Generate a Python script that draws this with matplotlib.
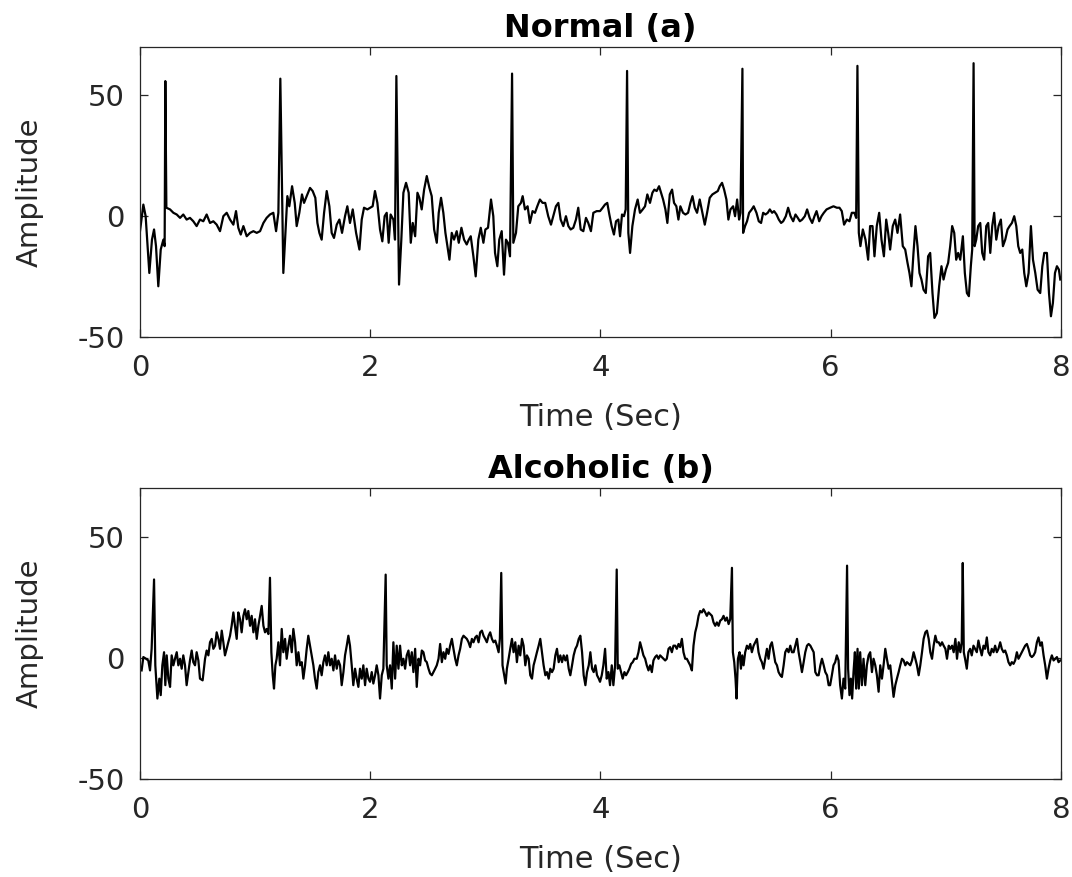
import numpy as np
import matplotlib.pyplot as plt

# (time in sec, amplitude)
normal_pts = [
    (0.000, -6.2), (0.029, 4.8), (0.049, 0), (0.081, -23.5), (0.104, -9.7), (0.122, -5.5), (0.139, -12.4),
    (0.159, -29.0), (0.180, -13.8), (0.203, -9.7), (0.214, -12.4), (0.220, 55.9), (0.229, 3.5), (0.261, 2.8),
    (0.290, 1.4), (0.319, 0.7), (0.348, -0.7), (0.376, 0.7), (0.405, -1.4), (0.434, -0.7), (0.463, -2.1),
    (0.492, -4.1), (0.521, -1.4), (0.550, -2.1), (0.579, 0.7), (0.608, -2.8), (0.637, -2.1), (0.666, -3.5),
    (0.695, -6.2), (0.724, 0), (0.753, 1.4), (0.782, -1.4), (0.811, -3.5), (0.834, 2.1), (0.854, -4.8),
    (0.875, -7.6), (0.898, -4.1), (0.927, -8.3), (0.956, -6.9), (0.985, -6.2), (1.014, -6.9), (1.043, -6.2),
    (1.072, -2.8), (1.100, -0.7), (1.129, 0.7), (1.158, 1.4), (1.182, -6.2), (1.202, 1.4), (1.219, 56.9),
    (1.245, -23.5), (1.280, 8.3), (1.297, 4.1), (1.321, 12.4), (1.344, 5.5), (1.361, -4.1), (1.384, 1.4),
    (1.407, 9.0), (1.425, 5.5), (1.448, 8.3), (1.477, 11.7), (1.500, 10.4), (1.523, 7.6), (1.541, -2.8),
    (1.558, -6.9), (1.578, -9.7), (1.599, 1.4), (1.622, 10.4), (1.645, 4.1), (1.665, -6.9), (1.685, -9.0),
    (1.709, -3.5), (1.732, -1.4), (1.755, -6.9), (1.781, 0), (1.801, 4.1), (1.824, -2.8), (1.848, 2.8),
    (1.877, -6.9), (1.906, -13.8), (1.926, -1.4), (1.946, 3.5), (1.975, 2.8),
    (2.021, 4.1), (2.041, 10.4), (2.062, 5.5), (2.085, -5.5), (2.105, -10.4), (2.125, 0), (2.143, 1.4),
    (2.160, -11.0), (2.177, 0.7), (2.201, -1.4), (2.215, -9.7), (2.227, 58.0), (2.250, -28.3), (2.270, -9.7),
    (2.288, 9.7), (2.311, 13.8), (2.334, 9.7), (2.352, -11.0), (2.369, -2.8), (2.390, -8.3), (2.410, 9.7),
    (2.427, 7.6), (2.447, 2.8), (2.468, 11.0), (2.491, 16.6), (2.514, 11.7), (2.534, 8.3), (2.555, -5.5),
    (2.578, -11.0), (2.595, 1.4), (2.615, 7.6), (2.635, 1.4), (2.653, -6.9), (2.670, -12.4), (2.688, -18.0),
    (2.708, -6.9), (2.728, -9.7), (2.751, -6.2), (2.769, -11.0), (2.792, -4.8), (2.815, -9.7), (2.838, -11.7),
    (2.856, -9.7), (2.873, -8.3), (2.896, -16.6), (2.916, -24.9), (2.939, -9.7), (2.960, -4.8), (2.983, -11.0),
    (3.000, -5.5), (3.023, -4.8), (3.049, 6.9), (3.069, 0), (3.084, -15.2), (3.104, -20.7), (3.121, -9.7),
    (3.142, -6.2), (3.162, -24.2), (3.179, -9.7), (3.196, -11.0), (3.214, -16.6), (3.232, 59.0), (3.243, -11.0),
    (3.266, -6.9), (3.286, 4.1), (3.309, 5.5), (3.324, 8.3), (3.344, 2.8), (3.367, 4.1), (3.387, -2.8),
    (3.410, 2.1), (3.431, 1.4), (3.451, 4.1), (3.474, 6.9), (3.497, 5.5), (3.520, 5.5), (3.546, 0),
    (3.570, -3.5), (3.590, 0), (3.613, 4.1), (3.634, 5.5), (3.654, -1.4), (3.677, -4.1), (3.700, 0),
    (3.721, -4.1), (3.741, -5.5), (3.764, -4.8), (3.787, -1.4), (3.807, 3.5), (3.828, -5.5), (3.851, -6.2),
    (3.874, -0.7), (3.894, -2.8), (3.917, -6.2), (3.938, 1.4), (3.967, 2.1),
    (3.996, 2.1), (4.019, 3.5), (4.039, 4.8), (4.059, 5.5), (4.077, 0.7), (4.097, -4.1), (4.117, -7.6),
    (4.135, -2.1), (4.155, -1.4), (4.170, -8.3), (4.187, 0.7), (4.204, 0), (4.219, 2.8), (4.231, 60.1),
    (4.242, -6.9), (4.257, -15.2), (4.277, -4.1), (4.300, 2.8), (4.323, 6.9), (4.343, 1.4), (4.367, 2.8),
    (4.387, 4.1), (4.407, 9.0), (4.430, 5.5), (4.451, 9.7), (4.468, 11.0), (4.488, 10.4), (4.509, 12.4),
    (4.526, 9.7), (4.544, 6.9), (4.564, 2.8), (4.581, -2.8), (4.602, 9.0), (4.622, 11.0), (4.639, 5.5),
    (4.659, 4.1), (4.677, -1.4), (4.694, 4.1), (4.717, 1.4), (4.738, 0.7), (4.761, 1.4), (4.781, 5.5),
    (4.799, 8.3), (4.819, 3.5), (4.839, 1.4), (4.862, 6.9), (4.885, 1.4), (4.906, -3.5), (4.926, 1.4),
    (4.949, 7.6), (4.972, 9.0), (4.995, 9.7), (5.019, 10.4), (5.036, 12.4), (5.056, 13.8), (5.074, 11.0),
    (5.094, 6.9), (5.111, -1.4), (5.129, 2.8), (5.152, 4.1), (5.169, 0), (5.187, 6.9), (5.204, -1.4),
    (5.216, 1.4), (5.233, 61.0), (5.239, -6.9), (5.256, -4.1), (5.273, -2.1), (5.291, 1.4), (5.314, 2.8),
    (5.331, 4.1), (5.355, 1.4), (5.375, -2.1), (5.395, -2.8), (5.413, 1.4), (5.433, 0.7), (5.453, 1.4),
    (5.471, 2.8), (5.491, 1.4), (5.508, 2.1), (5.529, 0.7), (5.549, -1.4), (5.569, -2.8), (5.587, -2.1),
    (5.610, 0), (5.630, 3.5), (5.651, 0), (5.674, -2.1), (5.694, 0.7), (5.714, -0.7), (5.732, -2.1),
    (5.752, -1.4), (5.775, 0), (5.795, 2.8), (5.817, -0.7), (5.839, -2.8), (5.859, 0), (5.877, 2.1),
    (5.900, -2.1), (5.920, 0), (5.940, 1.4), (5.964, 2.8),
    (5.995, 3.5), (6.024, 4.1), (6.053, 3.5), (6.076, 3.5), (6.096, 2.1), (6.116, -3.5), (6.140, -1.4),
    (6.163, -2.1), (6.183, 1.4), (6.206, 1.4), (6.221, -0.7), (6.232, 62.2), (6.244, -6.9), (6.258, -12.4),
    (6.279, -5.5), (6.302, -9.7), (6.325, -18.0), (6.342, -4.1), (6.363, -4.1), (6.380, -16.6), (6.400, -4.1),
    (6.421, 1.4), (6.441, -9.7), (6.462, -16.6), (6.482, -1.4), (6.499, -6.9), (6.516, -13.8), (6.539, -4.1),
    (6.560, -1.4), (6.580, -6.9), (6.603, 0.7), (6.626, -12.4), (6.647, -13.8), (6.667, -19.3), (6.684, -23.5),
    (6.701, -29.0), (6.719, -15.2), (6.736, -4.1), (6.754, -12.4), (6.771, -23.5), (6.788, -26.2),
    (6.806, -30.4), (6.826, -31.8), (6.846, -16.6), (6.864, -15.2), (6.884, -31.8), (6.901, -42.1),
    (6.922, -40.1), (6.942, -29.0), (6.962, -20.7), (6.980, -26.2), (7.000, -22.1), (7.020, -19.3),
    (7.038, -12.4), (7.055, -4.1), (7.073, -6.9), (7.090, -18.0), (7.107, -15.2), (7.125, -18.0),
    (7.148, -8.3), (7.165, -23.5), (7.183, -31.8), (7.200, -33.1), (7.217, -20.7), (7.229, -13.8),
    (7.241, 63.3), (7.250, -12.4), (7.264, -9.7), (7.281, -4.1), (7.299, -2.8), (7.316, -15.2), (7.333, -18.0),
    (7.351, -4.1), (7.368, -2.8), (7.386, -15.2), (7.403, -4.1), (7.420, 1.4), (7.438, -9.7), (7.458, -4.1),
    (7.478, -1.4), (7.496, -12.4), (7.516, -9.7), (7.536, -5.5), (7.554, -4.1), (7.574, -2.8), (7.594, 0),
    (7.612, -4.1), (7.629, -12.4), (7.646, -15.2), (7.664, -13.8), (7.681, -23.5), (7.699, -29.0),
    (7.719, -23.5), (7.739, -4.1), (7.757, -18.0), (7.777, -23.5), (7.797, -30.4), (7.820, -31.8),
    (7.838, -20.7), (7.855, -15.2), (7.878, -15.2), (7.896, -31.8), (7.913, -41.4), (7.930, -35.9),
    (7.948, -23.5), (7.965, -20.7), (7.982, -22.1), (7.994, -26.2),
]

alcoholic_pts = [
    (0.014, -5.2), (0.029, 0.3), (0.052, -0.4), (0.072, -1.1), (0.087, -5.2), (0.101, 3.7), (0.122, 32.3),
    (0.133, -3.1), (0.151, -16.8), (0.168, -8.6), (0.180, -15.4), (0.194, -3.1), (0.209, 2.3), (0.220, -11.3),
    (0.232, 1.0), (0.246, -8.6), (0.261, -12.0), (0.275, 1.0), (0.290, -3.1), (0.304, -0.4), (0.319, 2.3),
    (0.333, -3.1), (0.348, -0.4), (0.362, -4.5), (0.376, 1.0), (0.391, -3.1), (0.405, -11.3), (0.420, -5.9),
    (0.434, -1.1), (0.449, 3.0), (0.463, -1.8), (0.478, -3.1), (0.492, 2.3), (0.507, -1.1), (0.521, -8.6),
    (0.544, -9.3), (0.565, -0.4), (0.579, 3.0), (0.594, 1.0), (0.608, 6.4), (0.623, 7.8), (0.637, 3.7),
    (0.652, 5.0), (0.666, 10.5), (0.681, 7.8), (0.695, 3.7), (0.710, 11.2), (0.724, 6.4), (0.738, 1.0),
    (0.753, 3.7), (0.767, 6.4), (0.782, 9.1), (0.796, 13.2), (0.811, 18.7), (0.825, 13.2), (0.840, 7.8),
    (0.854, 18.7), (0.869, 15.9), (0.883, 10.5), (0.898, 17.3), (0.912, 20.0), (0.927, 15.9), (0.941, 19.3),
    (0.956, 13.2), (0.970, 17.3), (0.985, 10.5), (0.999, 15.9), (1.014, 7.8), (1.028, 13.2), (1.043, 17.3),
    (1.057, 21.4), (1.072, 13.2), (1.086, 10.5), (1.100, 11.9), (1.115, 9.8), (1.129, 33.0), (1.141, 2.3),
    (1.153, -7.2), (1.164, -12.7), (1.176, -3.1), (1.187, -0.4), (1.202, 6.4), (1.216, -3.1), (1.231, 11.9),
    (1.245, 2.3), (1.260, 7.8), (1.274, -0.4), (1.289, 5.0), (1.303, 9.1), (1.318, 2.3), (1.332, 11.9),
    (1.347, 6.4), (1.361, -3.1), (1.376, 2.3), (1.390, -3.1), (1.405, -1.8), (1.419, -8.6), (1.434, -3.1),
    (1.448, 3.7), (1.462, 9.1), (1.477, 5.0), (1.491, 1.0), (1.506, -3.1), (1.520, -8.6), (1.535, -12.7),
    (1.549, -5.9), (1.564, -3.1), (1.578, -7.2), (1.593, -1.8), (1.607, 1.0), (1.622, -3.1), (1.636, 2.3),
    (1.651, -3.1), (1.665, -0.4), (1.680, -5.2), (1.694, 1.0), (1.709, -4.5), (1.723, -1.1), (1.738, -3.1),
    (1.752, -11.3), (1.767, -5.9), (1.781, 1.0), (1.796, 5.0), (1.810, 9.1), (1.824, 5.0), (1.839, -3.1),
    (1.853, -11.3), (1.868, -4.5), (1.882, -8.6), (1.897, -12.0), (1.911, -4.5), (1.926, -8.6), (1.940, -3.1),
    (1.955, -11.3), (1.969, -4.5), (1.984, -8.6),
    (1.998, -9.9), (2.013, -5.9), (2.027, -10.6), (2.042, -7.2), (2.056, -3.1), (2.071, -7.2), (2.085, -16.8),
    (2.100, -7.2), (2.114, -4.5), (2.134, 34.3), (2.143, -3.1), (2.158, -8.6), (2.172, -3.1), (2.187, -12.7),
    (2.201, 6.4), (2.216, -8.6), (2.230, 5.0), (2.245, -4.5), (2.259, 5.0), (2.274, -3.1), (2.288, -0.4),
    (2.303, -4.5), (2.317, 1.0), (2.332, 3.0), (2.346, -3.1), (2.361, 2.3), (2.375, -5.9), (2.390, 3.7),
    (2.404, -12.0), (2.419, -0.4), (2.433, -3.1), (2.448, 3.0), (2.462, 2.3), (2.477, -1.1), (2.491, -1.8),
    (2.506, -4.5), (2.520, -6.5), (2.535, -7.2), (2.549, -5.9), (2.564, -4.5), (2.578, -3.1), (2.593, -0.4),
    (2.607, 5.7), (2.622, -1.8), (2.636, 2.3), (2.651, -0.4), (2.665, 3.7), (2.680, 1.6), (2.694, 5.0),
    (2.709, 7.8), (2.723, 3.7), (2.738, -0.4), (2.752, -3.1), (2.767, 1.0), (2.781, 3.7), (2.796, 7.8),
    (2.810, 9.1), (2.825, 8.4), (2.839, 7.8), (2.854, 6.4), (2.868, 4.4), (2.883, 7.8), (2.897, 6.4),
    (2.912, 8.4), (2.926, 9.1), (2.941, 6.4), (2.955, 10.5), (2.970, 11.2), (2.984, 9.1), (2.999, 7.8),
    (3.013, 6.4), (3.028, 9.1), (3.042, 10.5), (3.057, 7.8), (3.071, 6.4), (3.086, 7.1), (3.100, 5.0),
    (3.115, 2.3), (3.126, 7.8), (3.138, 35.0), (3.149, -3.1), (3.164, -7.2), (3.176, -10.6), (3.187, -4.5),
    (3.202, -0.4), (3.216, 3.7), (3.231, 7.8), (3.245, 2.3), (3.260, 6.4), (3.274, -1.8), (3.289, 5.0),
    (3.303, 1.0), (3.318, 7.8), (3.332, 5.0), (3.347, -3.1), (3.361, 1.0), (3.376, -0.4), (3.390, -7.2),
    (3.405, -8.6), (3.419, -3.1), (3.434, -0.4), (3.448, 2.3), (3.463, 5.0), (3.477, 7.8), (3.492, 2.3),
    (3.506, -3.1), (3.521, -7.2), (3.535, -5.9), (3.550, -8.6), (3.564, -4.5), (3.579, -5.9), (3.593, -4.5),
    (3.608, 1.0), (3.622, 3.7), (3.637, -1.8), (3.651, 1.0), (3.666, -1.8), (3.680, 1.0), (3.695, -1.1),
    (3.709, 1.0), (3.724, -4.5), (3.738, -7.2), (3.753, -3.1), (3.767, 1.0), (3.782, 3.7), (3.796, 5.0),
    (3.811, 7.8), (3.825, 9.1), (3.840, 2.3), (3.854, -7.2), (3.869, -11.3), (3.883, -5.9), (3.898, -3.1),
    (3.912, 2.3), (3.927, -4.5), (3.941, -5.9), (3.956, -3.1), (3.970, -7.2), (3.985, -8.6),
    (3.996, -9.9), (4.011, -7.2), (4.025, -3.1), (4.040, 3.7), (4.054, -8.6), (4.069, -5.9), (4.083, -11.3),
    (4.098, -3.1), (4.112, -11.3), (4.127, -3.1), (4.141, 36.4), (4.150, -4.5), (4.164, -3.1), (4.179, -5.9),
    (4.193, -8.6), (4.208, -5.9), (4.222, -7.2), (4.237, -5.9), (4.251, -4.5), (4.266, -2.5), (4.280, -1.8),
    (4.295, -0.4), (4.315, -0.4), (4.330, 2.3), (4.344, 6.4), (4.359, 3.7), (4.373, 1.0), (4.388, -0.4),
    (4.402, -3.1), (4.417, -5.2), (4.431, -3.1), (4.446, -5.9), (4.460, -1.1), (4.475, 0.3), (4.489, 1.0),
    (4.504, -0.4), (4.518, 1.0), (4.533, 0.3), (4.547, -0.4), (4.562, -1.1), (4.576, -0.4), (4.591, 3.7),
    (4.605, 4.4), (4.620, 2.3), (4.634, 5.0), (4.649, 5.0), (4.663, 3.7), (4.678, 5.7), (4.692, 4.4),
    (4.707, 7.8), (4.721, 2.3), (4.736, -0.4), (4.750, -0.4), (4.765, -1.8), (4.779, -3.1), (4.794, -5.2),
    (4.808, 5.0), (4.823, 10.5), (4.837, 13.2), (4.852, 17.3), (4.866, 19.3), (4.881, 18.7), (4.895, 20.0),
    (4.910, 18.7), (4.924, 17.3), (4.939, 18.7), (4.953, 18.0), (4.968, 17.3), (4.982, 14.6), (4.997, 13.2),
    (5.011, 14.6), (5.026, 13.2), (5.040, 15.3), (5.055, 15.9), (5.069, 17.3), (5.084, 15.3), (5.098, 16.6),
    (5.113, 13.9), (5.127, 15.9), (5.142, 37.1), (5.150, 2.3), (5.162, -1.8), (5.173, -8.6), (5.182, -16.8),
    (5.194, -0.4), (5.208, 2.3), (5.220, -4.5), (5.231, 1.0), (5.243, -3.1), (5.257, 2.3), (5.272, 5.0),
    (5.286, 3.7), (5.301, 5.7), (5.315, 2.3), (5.330, 5.0), (5.344, 6.4), (5.359, 7.8), (5.373, 2.3),
    (5.388, -0.4), (5.402, -1.8), (5.417, -4.5), (5.431, -0.4), (5.446, 3.7), (5.460, -0.4), (5.475, 5.0),
    (5.489, 6.4), (5.504, 2.3), (5.518, -1.8), (5.533, -3.1), (5.547, -5.9), (5.562, -7.2), (5.576, -7.9),
    (5.591, -3.1), (5.605, 2.3), (5.620, 3.7), (5.634, 2.3), (5.649, 5.0), (5.663, 2.3), (5.678, 2.3),
    (5.692, 5.0), (5.707, 7.8), (5.721, 2.3), (5.736, -1.8), (5.750, -5.9), (5.765, -1.8), (5.779, 2.3),
    (5.794, 5.0), (5.808, 5.7), (5.823, 5.0), (5.837, 3.7), (5.852, 2.3), (5.866, -5.9), (5.881, -7.2),
    (5.895, -7.2), (5.910, -3.1), (5.924, -0.4), (5.939, -3.1), (5.953, -5.9), (5.968, -7.2), (5.982, -11.3),
    (5.995, -11.3), (6.010, -7.2), (6.024, -3.1), (6.039, -1.8), (6.053, 1.0), (6.068, -1.1), (6.082, -11.3),
    (6.097, -16.8), (6.111, -8.6), (6.126, -12.7), (6.142, 38.0), (6.151, -4.5), (6.163, -15.4), (6.175, -8.6),
    (6.186, -16.8), (6.198, -5.9), (6.210, 2.3), (6.221, -12.7), (6.233, 3.7), (6.244, -12.7), (6.256, 2.3),
    (6.271, -11.3), (6.285, -0.4), (6.300, -11.3), (6.314, -3.1), (6.329, 1.0), (6.343, 2.3), (6.358, -5.9),
    (6.372, -0.4), (6.387, -3.1), (6.401, -7.2), (6.416, -14.0), (6.430, -3.1), (6.445, -8.6), (6.459, -3.1),
    (6.474, 3.7), (6.488, -0.4), (6.503, -4.5), (6.517, -3.1), (6.532, -9.9), (6.546, -16.1), (6.561, -11.3),
    (6.575, -8.6), (6.590, -5.9), (6.604, -3.1), (6.619, -0.4), (6.633, -1.1), (6.648, -3.1), (6.662, -1.8),
    (6.677, -2.5), (6.691, -3.1), (6.706, -1.1), (6.720, 2.3), (6.735, -0.4), (6.749, -3.1), (6.764, -7.2),
    (6.778, -3.1), (6.793, 2.3), (6.807, 7.8), (6.822, 10.5), (6.836, 11.2), (6.851, 7.8), (6.865, 2.3),
    (6.880, -0.4), (6.894, 5.0), (6.909, 9.1), (6.923, 6.4), (6.938, 6.4), (6.952, 5.0), (6.967, 6.4),
    (6.981, 5.0), (6.996, 3.7), (7.010, -0.4), (7.025, 5.0), (7.039, 3.7), (7.054, 5.0), (7.068, 2.3),
    (7.083, 7.8), (7.097, -0.4), (7.112, 6.4), (7.126, 2.3), (7.138, 6.4), (7.147, 39.1), (7.156, 2.3),
    (7.167, -0.4), (7.182, -4.5), (7.196, 2.3), (7.211, 3.7), (7.225, 1.0), (7.240, 5.0), (7.254, 3.7),
    (7.269, 2.3), (7.283, 7.1), (7.298, 3.7), (7.312, 1.0), (7.327, 5.0), (7.341, 3.7), (7.356, 8.4),
    (7.370, 2.3), (7.385, 1.0), (7.399, 3.7), (7.414, 2.3), (7.428, 5.0), (7.443, 2.3), (7.457, 3.7),
    (7.472, 6.4), (7.486, 3.7), (7.501, 2.3), (7.515, 3.0), (7.530, 1.0), (7.544, -1.8), (7.559, -3.1),
    (7.573, -1.8), (7.588, -2.5), (7.602, -1.1), (7.617, 2.3), (7.631, -0.4), (7.646, 1.0), (7.660, 2.3),
    (7.675, 3.7), (7.689, 5.0), (7.704, 5.7), (7.718, 3.7), (7.733, 1.0), (7.747, 0.3), (7.762, 1.0),
    (7.776, 2.3), (7.791, 6.4), (7.805, 8.4), (7.820, 5.0), (7.834, 6.4), (7.849, 1.0), (7.863, -3.1),
    (7.878, -8.6), (7.892, -4.5), (7.907, -1.1), (7.921, 1.0), (7.936, -1.1), (7.950, -0.4), (7.965, 0.3),
    (7.979, -1.8), (7.994, -1.1),
]

titles = ['Normal (a)', 'Alcoholic (b)']
x_ticks = [0, 2, 4, 6, 8]
y_ticks = [-50, 0, 50]

plt.rcParams['font.family'] = 'DejaVu Sans'
plt.rcParams['axes.unicode_minus'] = False
dark = '#262626'

fig = plt.figure(figsize=(10.72, 8.77), dpi=100)
boxes = [[0.1306, 0.6157, 0.8591, 0.3307], [0.1306, 0.1117, 0.8591, 0.3318]]

for box, pts, title in zip(boxes, [normal_pts, alcoholic_pts], titles):
    ax = fig.add_axes(box)
    t, a = np.array(pts).T
    ax.plot(t, a, color='k', lw=1.6)
    ax.set_xlim(0, 8)
    ax.set_ylim(-50, 70)
    ax.set_xticks(x_ticks)
    ax.set_yticks(y_ticks)
    ax.tick_params(direction='in', top=True, right=True, length=6, width=0.9,
                   colors=dark, labelsize=21)
    ax.tick_params(axis='x', pad=12)
    ax.tick_params(axis='y', pad=11)
    for s in ax.spines.values():
        s.set_color(dark)
        s.set_linewidth(0.9)
    ax.set_title(title, fontsize=23, fontweight='bold', pad=7)
    ax.set_xlabel('Time (Sec)', fontsize=22, color=dark)
    ax.set_ylabel('Amplitude', fontsize=21, color=dark)
    ax.xaxis.set_label_coords(0.5, -0.228)
    ax.yaxis.set_label_coords(-0.105, 0.5)

fig.savefig('out.png', dpi=100)
